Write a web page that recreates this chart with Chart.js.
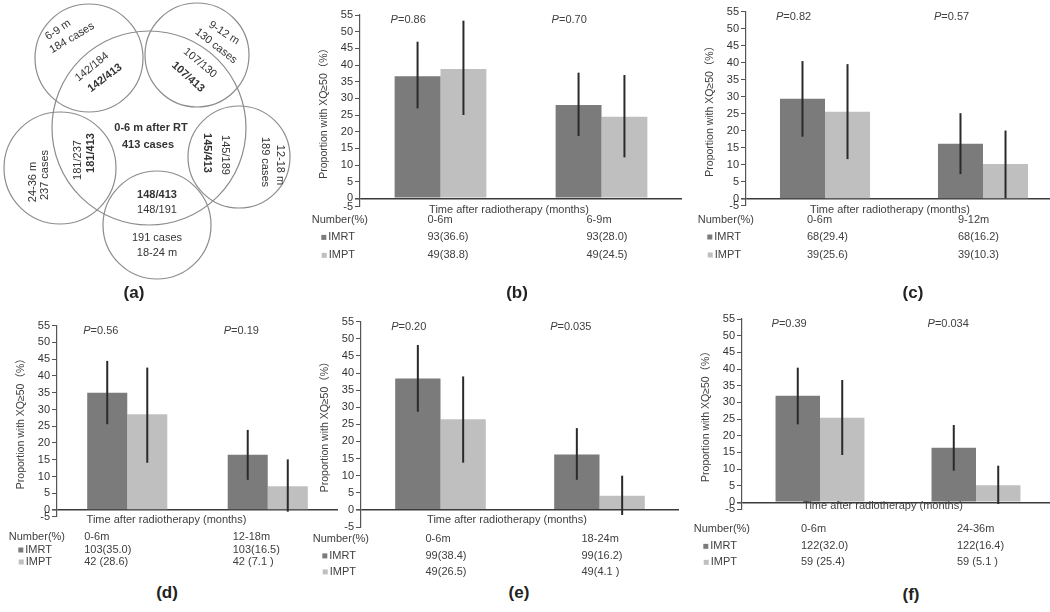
<!DOCTYPE html>
<html>
<head>
<meta charset="utf-8">
<script src="https://cdn.jsdelivr.net/npm/chart.js@4.4.1/dist/chart.umd.min.js"></script>
<style>
body { margin: 0; background: #fff; width: 1050px; height: 612px; overflow: hidden; position: relative; }
canvas { position: absolute; }
.lab { position: absolute; font: bold 17px "Liberation Sans", Arial, sans-serif; color: #222; transform: translate(-50%, -50%); }
</style>
</head>
<body>
<canvas id="venn" width="300" height="300" style="left:0;top:0"></canvas>
<div class="lab" style="left:134px;top:293px">(a)</div>
<div class="lab" style="left:517px;top:293px">(b)</div>
<div class="lab" style="left:913px;top:293px">(c)</div>
<div class="lab" style="left:167px;top:593px">(d)</div>
<div class="lab" style="left:519px;top:593px">(e)</div>
<div class="lab" style="left:911px;top:595px">(f)</div>
<script>
// (a) Venn: case counts
const baselineName = '0-6 m after RT';
const baselineCases = 413;
const intervals = ['6-9 m', '9-12 m', '12-18 m', '18-24 m', '24-36 m'];
const intervalCases = [184, 130, 189, 191, 237];
const overlapCases = [142, 107, 145, 148, 181];

// (b)-(f) bars
const baselineLabel = '0-6m';
const followUp = ['6-9m', '9-12m', '12-18m', '18-24m', '24-36m'];
const imrtN = [93, 68, 103, 99, 122];
const imptN = [49, 39, 42, 49, 59];
const imrtPct = [[36.6, 28.0], [29.4, 16.2], [35.0, 16.5], [38.4, 16.2], [32.0, 16.4]];
const imptPct = [[38.8, 24.5], [25.6, 10.3], [28.6, 7.1], [26.5, 4.1], [25.4, 5.1]];
const imrtLo = [[27, 18.7], [18.3, 7.3], [25.6, 9.0], [28.7, 8.8], [23.4, 9.5]];
const imrtHi = [[47, 37.7], [40.5, 25.2], [44.5, 23.9], [48.2, 23.9], [40.4, 23.2]];
const imptLo = [[25, 12.3], [11.7, 0.2], [14.1, -0.5], [13.8, -1.5], [14.2, -0.5]];
const imptHi = [[53.3, 37], [39.6, 20.1], [42.5, 15.1], [39, 10], [36.7, 11.0]];
const pValues = [['0.86', '0.70'], ['0.82', '0.57'], ['0.56', '0.19'], ['0.20', '0.035'], ['0.39', '0.034']];
const yTickLabels = ['-5', '0', '5', '10', '15', '20', '25', '30', '35', '40', '45', '50', '55'];
const imptSep = ['', '', ' ', '', ' '];

const FONT = '"Liberation Sans", Arial, "Noto Sans CJK SC", sans-serif';
const TXT = '#404040';

// ---------- Venn ----------
const vennCircles = [
  {x: 149, y: 128, r: 97},
  {x: 89, y: 58, r: 54},
  {x: 197, y: 55, r: 52},
  {x: 239, y: 157, r: 51},
  {x: 157, y: 225, r: 54},
  {x: 60, y: 168, r: 56}
];
// text placement per interval: name, cases, overlap/interval, overlap/baseline
const vennPos = [
  [[58, 30, -34], [72, 38, -31], [92, 67, -39], [105, 78, -37]],
  [[224, 33, 33], [216, 46, 38], [200, 63, 40], [188, 77, 42]],
  [[280, 165, 90], [265, 162, 90], [225, 155, 90], [207, 153, 90]],
  [[157, 253, 0], [157, 238, 0], [157, 210, 0], [157, 195, 0]],
  [[33, 182, -90], [45, 175, -90], [78, 160, -90], [91, 153, -90]]
];

const vennText = {
  id: 'vennText',
  afterDatasetsDraw(chart) {
    const {ctx, scales: {x, y}} = chart;
    const put = (t, p, bold) => {
      ctx.save();
      ctx.translate(x.getPixelForValue(p[0]), y.getPixelForValue(p[1]));
      ctx.rotate(p[2] * Math.PI / 180);
      ctx.font = (bold ? 'bold ' : '') + '11px ' + FONT;
      ctx.fillStyle = '#333';
      ctx.textAlign = 'center';
      ctx.textBaseline = 'middle';
      ctx.fillText(t, 0, 0);
      ctx.restore();
    };
    put(baselineName, [151, 128, 0], true);
    put(baselineCases + ' cases', [148, 145, 0], true);
    intervals.forEach((name, i) => {
      const p = vennPos[i];
      put(name, p[0], false);
      put(intervalCases[i] + ' cases', p[1], false);
      put(overlapCases[i] + '/' + intervalCases[i], p[2], false);
      put(overlapCases[i] + '/' + baselineCases, p[3], true);
    });
  }
};

new Chart(document.getElementById('venn'), {
  type: 'bubble',
  data: {
    datasets: [{
      data: vennCircles,
      backgroundColor: 'rgba(0,0,0,0)',
      borderColor: '#8c8c8c',
      borderWidth: 1.2,
      clip: false
    }]
  },
  options: {
    responsive: false,
    animation: false,
    events: [],
    layout: {padding: 0, autoPadding: false},
    plugins: {legend: {display: false}, tooltip: {enabled: false}},
    scales: {
      x: {type: 'linear', min: 0, max: 300, display: false},
      y: {type: 'linear', min: 0, max: 300, reverse: true, display: false}
    }
  },
  plugins: [vennText]
});

// ---------- bar panels ----------
const panelBoxes = [
  {l: 360, t: 15, r: 682, b: 206.7, yMin: -2.5, rows: [12, 22, 39, 57], colDx: [-13, -15], titleDx: -12},
  {l: 746, t: 11.7, r: 1062, b: 205.8, yMin: -2, rows: [11, 21, 38, 56], colDx: [-18, -25], titleDx: -14},
  {l: 57, t: 325.7, r: 338, b: 516.7, yMin: -2, rows: [10, 27, 40, 52], colDx: [-43, -35], titleDx: -31},
  {l: 361, t: 321.7, r: 679, b: 527, yMin: -5, rows: [10, 29, 46, 62], colDx: [-15, -18], titleDx: -13},
  {l: 742, t: 319, r: 1054, b: 509, yMin: -2, rows: [4, 27, 44, 60], colDx: [-19, -19], titleDx: -15}
];

const fmt = (n, v, sep) => n + sep + '(' + v.toFixed(1) + (v < 10 ? ' ' : '') + ')';

const panelText = {
  id: 'panelText',
  afterDatasetsDraw(chart, args, opts) {
    const {ctx, chartArea: a, scales: {x, y}} = chart;
    const k = opts.k, box = panelBoxes[k];
    const zero = y.getPixelForValue(0);

    // error bars
    ctx.save();
    ctx.strokeStyle = '#2a2a2a';
    ctx.lineWidth = 2;
    [[imrtLo, imrtHi], [imptLo, imptHi]].forEach(([lo, hi], d) => {
      chart.getDatasetMeta(d).data.forEach((bar, i) => {
        ctx.beginPath();
        ctx.moveTo(bar.x, y.getPixelForValue(lo[k][i]));
        ctx.lineTo(bar.x, y.getPixelForValue(hi[k][i]));
        ctx.stroke();
      });
    });

    ctx.fillStyle = TXT;
    ctx.textBaseline = 'middle';

    // P values
    const first = chart.getDatasetMeta(0).data;
    first.forEach((bar, i) => {
      let px = bar.x - bar.width / 2 - 4;
      ctx.textAlign = 'left';
      ctx.font = 'italic 11px ' + FONT;
      ctx.fillText('P', px, a.top + 5);
      px += ctx.measureText('P').width;
      ctx.font = '11px ' + FONT;
      ctx.fillText('=' + pValues[k][i], px, a.top + 5);
    });

    // y title
    ctx.save();
    ctx.translate(a.left - 36, (a.top + a.bottom) / 2);
    ctx.rotate(-Math.PI / 2);
    ctx.textAlign = 'center';
    ctx.font = '10.5px ' + FONT;
    ctx.fillText('Proportion with XQ≥50（%）', 0, 0);
    ctx.restore();

    // x title
    ctx.font = '11px ' + FONT;
    ctx.textAlign = 'center';
    const mid = (x.getPixelForValue(0) + x.getPixelForValue(1)) / 2;
    ctx.fillText('Time after radiotherapy (months)', mid + box.titleDx, zero + box.rows[0]);

    // table under the axis
    ctx.textAlign = 'right';
    ctx.fillText('Number(%)', a.left + 8, zero + box.rows[1]);
    const rowLab = [['IMRT', chart.data.datasets[0].backgroundColor], ['IMPT', chart.data.datasets[1].backgroundColor]];
    rowLab.forEach(([t, col], r) => {
      const yy = zero + box.rows[2 + r];
      ctx.fillStyle = TXT;
      ctx.textAlign = 'right';
      ctx.fillText(t, a.left - 5, yy);
      const w = ctx.measureText(t).width;
      ctx.fillStyle = col;
      ctx.fillRect(a.left - 5 - w - 7, yy - 2.5, 5, 5);
    });
    ctx.fillStyle = TXT;
    ctx.textAlign = 'left';
    chart.data.labels.forEach((lab, i) => {
      const cx = x.getPixelForValue(i) + box.colDx[i];
      ctx.fillText(lab, cx, zero + box.rows[1]);
      ctx.fillText(fmt(imrtN[k], imrtPct[k][i], ''), cx, zero + box.rows[2]);
      ctx.fillText(fmt(imptN[k], imptPct[k][i], imptSep[k]), cx, zero + box.rows[3]);
    });
    ctx.restore();
  }
};

const W = 60, PT = 10;
panelBoxes.forEach((box, k) => {
  const cv = document.createElement('canvas');
  const left = box.l - W;
  const top = Math.floor(box.t - PT);
  const pt = box.t - top;
  const zeroPx = box.t + (box.b - box.t) * 55 / (55 - box.yMin);
  const height = Math.ceil(zeroPx + 68 - top);
  const pb = height - pt - (box.b - box.t);
  cv.width = W + (box.r - box.l);
  cv.height = height;
  cv.style.left = left + 'px';
  cv.style.top = top + 'px';
  document.body.appendChild(cv);

  new Chart(cv, {
    type: 'bar',
    data: {
      labels: [baselineLabel, followUp[k]],
      datasets: [
        {label: 'IMRT', data: imrtPct[k], backgroundColor: '#7b7b7b', borderWidth: 0,
         categoryPercentage: 0.57, barPercentage: 1},
        {label: 'IMPT', data: imptPct[k], backgroundColor: '#bfbfbf', borderWidth: 0,
         categoryPercentage: 0.57, barPercentage: 1}
      ]
    },
    options: {
      responsive: false,
      animation: false,
      events: [],
      layout: {padding: {left: 0, right: 0, top: pt, bottom: pb}},
      plugins: {legend: {display: false}, tooltip: {enabled: false}, panelText: {k: k}},
      scales: {
        x: {display: false},
        y: {
          min: box.yMin,
          max: 55,
          afterFit: s => { s.width = W; },
          afterBuildTicks: s => {
            s.ticks = yTickLabels.map((t, j) => ({value: j === 0 ? box.yMin : Number(t)}));
          },
          ticks: {
            font: {family: FONT, size: 11},
            color: '#333',
            padding: 2,
            autoSkip: false,
            callback: (v, j) => yTickLabels[j]
          },
          grid: {
            drawOnChartArea: true,
            color: c => (c.tick && c.tick.value === 0) ? '#3a3a3a' : 'rgba(0,0,0,0)',
            lineWidth: c => (c.tick && c.tick.value === 0) ? 1.6 : 1,
            tickColor: '#555',
            tickLength: 5
          },
          border: {display: true, color: '#555', width: 1.2}
        }
      }
    },
    plugins: [panelText]
  });
});
</script>
</body>
</html>
